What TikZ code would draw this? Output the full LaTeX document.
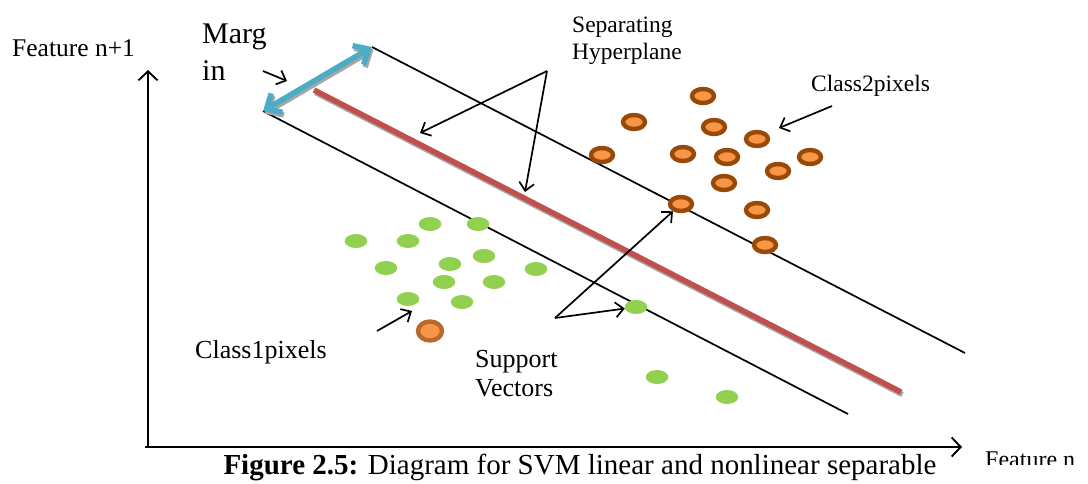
\documentclass[tikz,border=0pt]{standalone}
\usepackage{fontspec}
\setmainfont{Liberation Serif}
\usetikzlibrary{arrows.meta,shapes.geometric}
\definecolor{hypred}{HTML}{C0504D}
\definecolor{mblue}{HTML}{4BACC6}
\definecolor{shadowgray}{HTML}{A6A6A6}
\definecolor{ringbrown}{HTML}{984807}
\definecolor{dotorange}{HTML}{F79646}
\definecolor{dotgreen}{HTML}{92D050}
\definecolor{outring}{HTML}{B9692E}
\begin{document}
\begin{tikzpicture}[x=1pt,y=-1pt,
  lbl/.style={inner sep=0, anchor=base west},
  axis/.style={draw=black, line width=1.9pt, -{Straight Barb[length=9pt,width=19pt,line width=1.9pt]}},
  ann/.style={draw=black, line width=1.7pt, -{Straight Barb[length=8pt,width=15pt,line width=1.7pt]}},
  mline/.style={draw=black, line width=1.7pt},
  c2dot/.style={ellipse, draw=ringbrown, fill=dotorange, line width=4.4pt, minimum width=22pt, minimum height=14pt, inner sep=0},
  c1dot/.style={ellipse, fill=dotgreen, minimum width=22.5pt, minimum height=14pt, inner sep=0},
  odddot/.style={ellipse, draw=outring, fill=dotorange, line width=4.4pt, minimum width=24pt, minimum height=19pt, inner sep=0}
]
\useasboundingbox (0,0) rectangle (1088,483);

% axes
\coordinate (O) at (148,447);
\coordinate (xs) at (145,447);
\coordinate (ytop) at (148,70);
\coordinate (xend) at (962,447);
\draw[axis] (O) -- (ytop);
\draw[axis] (xs) -- (xend);

% margin lines
\coordinate (ua) at (372,47);
\coordinate (ub) at (965,353);
\coordinate (la) at (263,111);
\coordinate (lb) at (848,414);
\draw[mline] (ua) -- (ub);
\draw[mline] (la) -- (lb);

% separating hyperplane with shadow
\coordinate (ha) at (314,90);
\coordinate (hb) at (901,392);
\draw[shadowgray, line width=5.5pt] ([shift={(1.5,2.5)}]ha) -- ([shift={(1.5,2.5)}]hb);
\draw[hypred, line width=5.5pt] (ha) -- (hb);

% margin double arrow with shadow
\draw[shadowgray, line width=5.5pt, {Straight Barb[length=12pt,width=22pt,line width=5.5pt]}-{Straight Barb[length=12pt,width=22pt,line width=5.5pt]}]
  ([shift={(1.5,2.5)}]la) -- ([shift={(1.5,2.5)}]ua);
\draw[mblue, line width=5.5pt, {Straight Barb[length=12pt,width=22pt,line width=5.5pt]}-{Straight Barb[length=12pt,width=22pt,line width=5.5pt]}]
  (la) -- (ua);

% class 2 dots
\foreach \n/\x/\y in {1/703/96, 2/634/122, 3/714/127, 4/757/139, 5/602/155, 6/683/154, 7/727/157, 8/810/157, 9/778/171, 10/724/183, 11/681/204, 12/757/210, 13/765/245}
  \node[c2dot] (o\n) at (\x,\y) {};

% class 1 dots
\foreach \n/\x/\y in {1/430/224, 2/478/224, 3/356/241, 4/408/241, 5/484/256, 6/386/268, 7/450/264, 8/536/269, 9/444/282, 10/494/282, 11/408/299, 12/462/302, 13/636/307, 14/657/377, 15/727/397}
  \node[c1dot] (g\n) at (\x,\y) {};

% odd one
\node[odddot] (odd) at (430,331) {};

% labels
\node[lbl, font=\fontsize{25.5}{30}\selectfont] (fy) at (12,56) {Feature n+1};
\node[lbl, font=\fontsize{30}{35}\selectfont] (marg1) at (202,43) {Marg};
\node[lbl, font=\fontsize{30}{35}\selectfont] (marg2) at (202,80) {in};
\node[lbl, font=\fontsize{23.5}{27}\selectfont] (sep1) at (572,32) {Separating};
\node[lbl, font=\fontsize{23.5}{27}\selectfont] (sep2) at (572,59) {Hyperplane};
\node[lbl, font=\fontsize{23.5}{27}\selectfont] (c2l) at (811,91) {Class2pixels};
\node[lbl, font=\fontsize{26}{30}\selectfont] (c1l) at (195,358) {Class1pixels};
\node[lbl, font=\fontsize{26}{30}\selectfont] (sv1) at (475,367) {Support};
\node[lbl, font=\fontsize{26}{30}\selectfont] (sv2) at (475,396) {Vectors};
\node[inner sep=0, anchor=base, font=\fontsize{29}{34}\selectfont] (cap) at (580,474) {\textbf{Figure 2.5:} Diagram for SVM linear and nonlinear separable};
\begin{scope}
  \clip (975,440) rectangle (1088,464);
  \node[lbl, font=\fontsize{24}{28}\selectfont] (fx) at (985,467) {Feature n};
\end{scope}

% annotation arrows
\coordinate (mgs) at (263,71);
\coordinate (mge) at (287,81);
\draw[ann] (mgs) -- (mge);

\coordinate (hs) at (547,71);
\coordinate (he1) at (420,133);
\coordinate (he2) at (525,192);
\draw[ann] (hs) -- (he1);
\draw[ann] (hs) -- (he2);

\coordinate (c2s) at (832,106);
\coordinate (c2e) at (779,128);
\draw[ann] (c2s) -- (c2e);

\coordinate (svs) at (555,318);
\draw[ann] (svs) -- (o11);
\draw[ann] (svs) -- (g13);

\coordinate (c1s) at (377,331);
\coordinate (c1e) at (412,311);
\draw[ann] (c1s) -- (c1e);
\end{tikzpicture}
\end{document}
